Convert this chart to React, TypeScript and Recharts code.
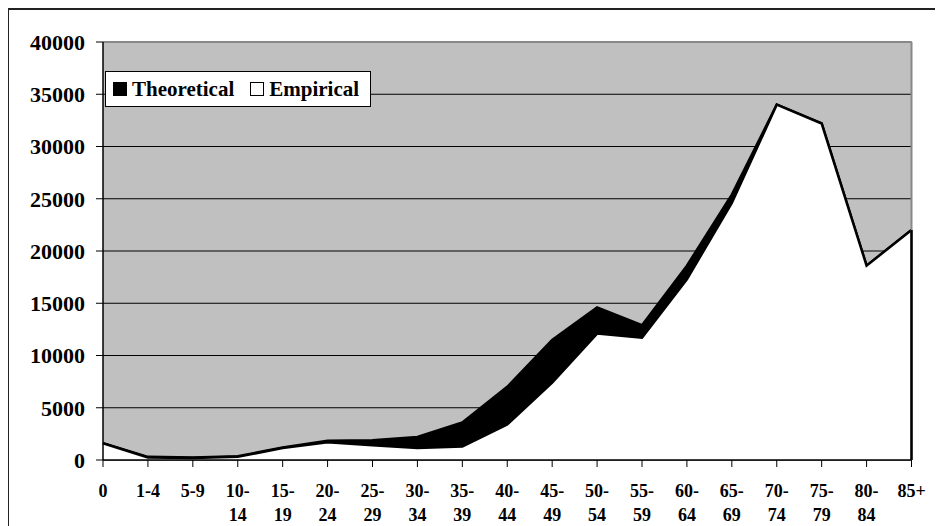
import React from 'react';
import { AreaChart, Area, XAxis, YAxis, CartesianGrid, ReferenceLine, Legend } from 'recharts';

const categories = ['0', '1-4', '5-9', '10-14', '15-19', '20-24', '25-29', '30-34', '35-39', '40-44', '45-49', '50-54', '55-59', '60-64', '65-69', '70-74', '75-79', '80-84', '85+'];
const theoretical = [1600, 300, 250, 350, 1200, 1850, 1900, 2200, 3600, 7000, 11500, 14600, 12900, 18600, 25400, 34000, 32200, 18600, 22000];
const empirical = [1600, 250, 200, 300, 1150, 1700, 1400, 1150, 1300, 3400, 7400, 12100, 11700, 17300, 24600, 34000, 32200, 18600, 22000];
const yTicks = [0, 5000, 10000, 15000, 20000, 25000, 30000, 35000, 40000];

const data = categories.map((c, i) => ({ cat: c, Theoretical: theoretical[i], Empirical: empirical[i] }));

const FONT = '"Liberation Serif", "Times New Roman", serif';

const XTick = (props: any) => {
  const { x, y, payload } = props;
  const v: string = payload.value;
  const m = v.length > 3 ? v.match(/^(\d+-)(\d+)$/) : null;
  const lines = m ? [m[1], m[2]] : [v];
  return (
    <g transform={`translate(${x},${y})`}>
      {lines.map((l, i) => (
        <text key={i} x={0} y={28 + i * 24} textAnchor="middle" fontFamily={FONT} fontWeight="bold" fontSize={18} fill="#000">
          {l}
        </text>
      ))}
    </g>
  );
};

const LegendBox = () => (
  <div style={{ width: 264, height: 34, border: '1px solid #000', background: '#fff', display: 'flex', alignItems: 'center', fontFamily: FONT, fontWeight: 'bold', fontSize: 21, color: '#000', boxSizing: 'content-box', whiteSpace: 'nowrap' }}>
    <div style={{ width: 14, height: 14, background: '#000', marginLeft: 7, marginRight: 5, flex: 'none' }} />
    <span>Theoretical</span>
    <div style={{ width: 12, height: 12, background: '#fff', border: '1px solid #000', marginLeft: 16, marginRight: 5, flex: 'none' }} />
    <span>Empirical</span>
  </div>
);

export default function App() {
  return (
    <div style={{ position: 'relative', width: 926, height: 518 }}>
      <AreaChart width={926} height={518} data={data} margin={{ top: 34, right: 22.5, left: 0, bottom: 0 }} style={{ position: 'absolute', left: 0, top: 0 }}>
        <CartesianGrid fill="#C0C0C0" stroke="#000" strokeWidth={1} vertical={false} horizontalValues={yTicks} />
        <XAxis
          dataKey="cat"
          interval={0}
          tickSize={7}
          height={66}
          axisLine={{ stroke: '#000', strokeWidth: 1.5 }}
          tickLine={{ stroke: '#000' }}
          tick={<XTick />}
        />
        <YAxis
          domain={[0, 40000]}
          ticks={yTicks}
          interval={0}
          width={95}
          tickSize={7}
          tickMargin={11}
          axisLine={{ stroke: '#000', strokeWidth: 1.5 }}
          tickLine={{ stroke: '#000' }}
          tick={{ fontFamily: FONT, fontWeight: 'bold', fontSize: 22, fill: '#000' }}
        />
        <ReferenceLine y={40000} stroke="#888" strokeWidth={2} />
        <ReferenceLine x="85+" stroke="#888" strokeWidth={2} />
        <Area type="linear" dataKey="Theoretical" stroke="#000" strokeWidth={2.5} fill="#000" fillOpacity={1} isAnimationActive={false} />
        <Area type="linear" dataKey="Empirical" stroke="#000" strokeWidth={2.5} fill="#fff" fillOpacity={1} isAnimationActive={false} />
        <ReferenceLine
          segment={[{ x: categories[categories.length - 1], y: 0 }, { x: categories[categories.length - 1], y: empirical[empirical.length - 1] }]}
          stroke="#000"
          strokeWidth={2.5}
        />
        <Legend
          layout="horizontal"
          verticalAlign="middle"
          align="center"
          wrapperStyle={{ top: 63, left: 97, width: 'auto', height: 'auto' }}
          content={<LegendBox />}
        />
      </AreaChart>
      <div style={{ position: 'absolute', left: -1, top: 0, width: 936, height: 517, borderTop: '2px solid #222', borderLeft: '2px solid #222', pointerEvents: 'none' }} />
    </div>
  );
}
